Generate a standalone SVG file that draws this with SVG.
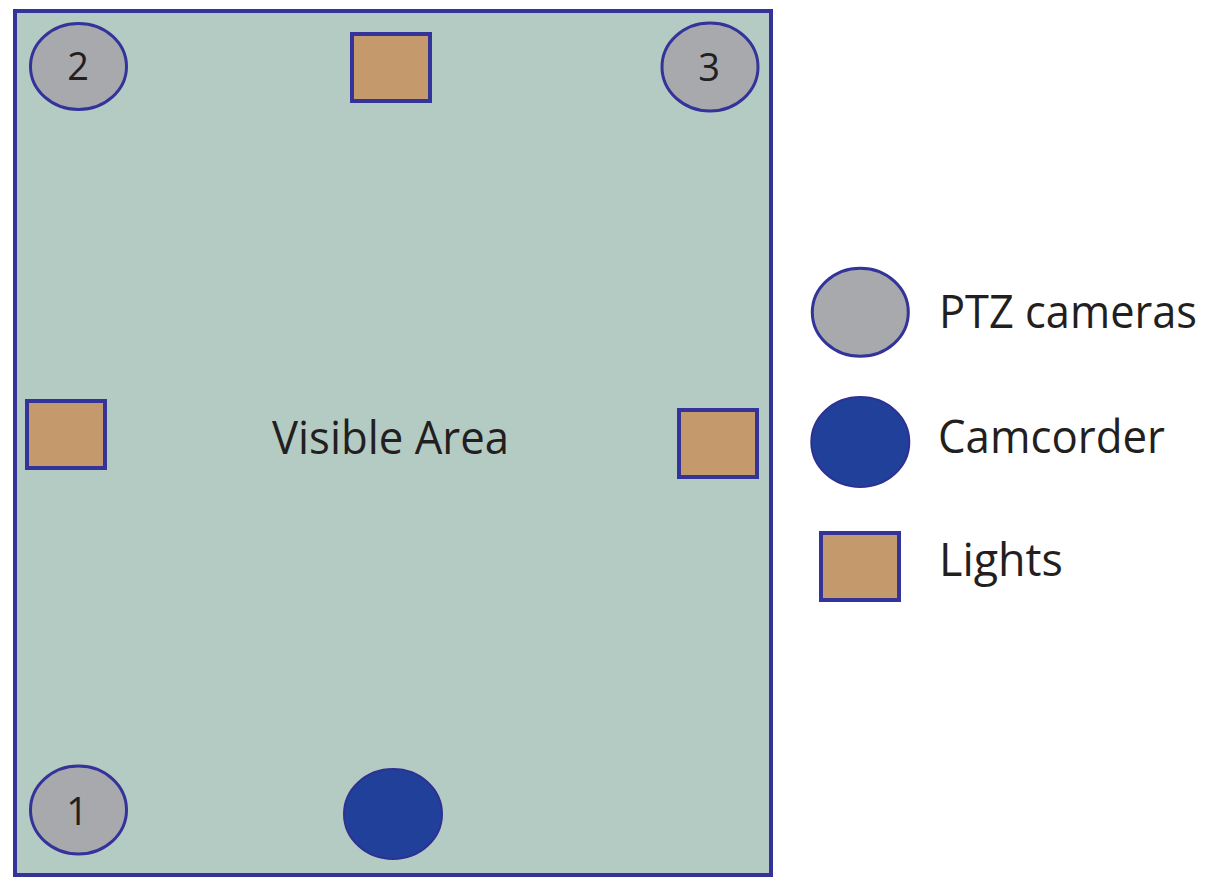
<svg xmlns="http://www.w3.org/2000/svg" width="1213" height="885" viewBox="0 0 1213 885">
<style>
.cam{fill:#a8a9ad;stroke:#333399;stroke-width:3}
.cc{fill:#21409a;stroke:#2e3192;stroke-width:2}
.light{fill:#c4996c;stroke:#333399;stroke-width:4}
.t{font-family:"Open Sans","Noto Sans",sans-serif;fill:#231f20}
.num{font-size:38px;text-anchor:middle}
.lab{font-size:46px}
</style>
<rect width="1213" height="885" fill="#ffffff"/>
<g id="area">
<rect x="15" y="11" width="756" height="864" fill="#b4cbc4" stroke="#333399" stroke-width="4"/>
<text class="t lab" x="272" y="454" textLength="237" lengthAdjust="spacingAndGlyphs">Visible Area</text>
</g>
<g id="cam2"><ellipse class="cam" cx="78.5" cy="66.5" rx="48" ry="43"/><text class="t num" x="78" y="80">2</text></g>
<g id="cam3"><ellipse class="cam" cx="710" cy="67" rx="48" ry="44"/><text class="t num" x="709" y="81">3</text></g>
<g id="cam1"><ellipse class="cam" cx="78.5" cy="810" rx="48" ry="44"/><text class="t num" x="77" y="825">1</text></g>
<g id="camcorder"><ellipse class="cc" cx="393" cy="814" rx="49" ry="45"/></g>
<g id="light-top"><rect class="light" x="352" y="34" width="78" height="67"/></g>
<g id="light-left"><rect class="light" x="27" y="401" width="78" height="67"/></g>
<g id="light-right"><rect class="light" x="679" y="410" width="78" height="67"/></g>
<g id="legend-ptz"><ellipse class="cam" cx="860.3" cy="312.3" rx="48" ry="44"/><text class="t lab" x="939" y="328" textLength="258" lengthAdjust="spacingAndGlyphs">PTZ cameras</text></g>
<g id="legend-camcorder"><ellipse class="cc" cx="860.3" cy="442" rx="49" ry="45"/><text class="t lab" x="938" y="453" textLength="227" lengthAdjust="spacingAndGlyphs">Camcorder</text></g>
<g id="legend-lights"><rect class="light" x="821" y="533" width="78" height="67"/><text class="t lab" x="939" y="576" textLength="124" lengthAdjust="spacingAndGlyphs">Lights</text></g>
<g id="connectors"/>
</svg>
